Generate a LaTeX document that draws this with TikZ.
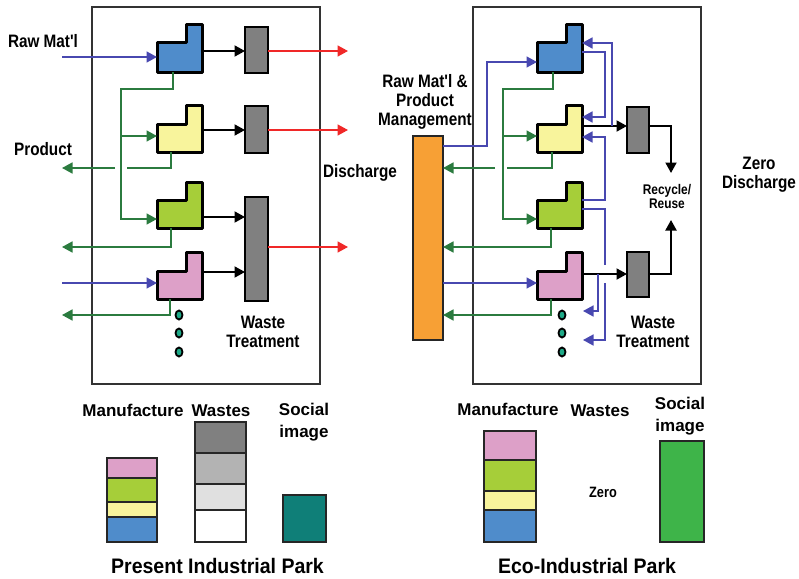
\documentclass[tikz,border=0pt]{standalone}
\usepackage{fontspec}
\setmainfont{Liberation Sans}
\newfontfamily\condf{Liberation Sans}[FakeStretch=0.85]
\newfontfamily\titlef{Liberation Sans}[FakeStretch=0.93]
\usetikzlibrary{arrows.meta,shapes.geometric}
\definecolor{mblue}{HTML}{4F8CCB}
\definecolor{myellow}{HTML}{F8F49C}
\definecolor{mgreen}{HTML}{A6CE39}
\definecolor{mpink}{HTML}{DDA0C8}
\definecolor{wgrey}{HTML}{808080}
\definecolor{wmid}{HTML}{B3B3B3}
\definecolor{wlight}{HTML}{E0E0E0}
\definecolor{morange}{HTML}{F7A035}
\definecolor{lblue}{HTML}{4848B0}
\definecolor{lgreen}{HTML}{2B7B3F}
\definecolor{lred}{HTML}{F02828}
\definecolor{steal}{HTML}{0F7F78}
\definecolor{dteal}{HTML}{1FAA88}
\definecolor{sgreen}{HTML}{3EB449}
\tikzset{
 lab/.style={font=\condf\bfseries\fontsize{18}{19}\selectfont, inner sep=0pt, align=center},
 smalllab/.style={font=\condf\bfseries\fontsize{14}{14}\selectfont, inner sep=0pt, align=center},
 botlab/.style={font=\bfseries\fontsize{17}{22}\selectfont, inner sep=0pt, align=center},
 titlelab/.style={font=\titlef\bfseries\fontsize{21}{24}\selectfont, inner sep=0pt},
 arr/.style={-{Triangle[length=10.5pt,width=11pt]}},
 bl/.style={draw=lblue, line width=1.6pt},
 gl/.style={draw=lgreen, line width=1.6pt},
 kl/.style={draw=black, line width=1.9pt},
 rl/.style={draw=lred, line width=1.6pt},
 wbox/.style={draw=black, fill=wgrey, line width=2.2pt, inner sep=0pt, outer sep=0pt, minimum width=23pt},
 mnode/.style={inner sep=0pt, outer sep=0pt, minimum width=45pt},
 mach/.style={draw=black, line width=3pt, line join=round},
 dotn/.style={ellipse, draw=black, fill=dteal, line width=1.8pt, minimum width=7pt, minimum height=9pt, inner sep=0pt},
 stk/.style={draw=black!85, line width=1.8pt},
 panel/.style={draw=black!80, line width=1.5pt},
}
\newcommand\mymachine[6]{%
 \pgfmathsetmacro\mxa{#2+29}\pgfmathsetmacro\mxb{#2+45}%
 \pgfmathsetmacro\mcy{(#3+#5)/2}\pgfmathsetmacro\mh{#5-#3}%
 \draw[mach, fill=#6] (#2,#4) -- (\mxa,#4) -- (\mxa,#3) -- (\mxb,#3) -- (\mxb,#5) -- (#2,#5) -- cycle;
 \node[mnode, minimum height=\mh pt] (#1) at (#2+22.5,\mcy) {};
}
\begin{document}
\begin{tikzpicture}[x=1pt,y=-1pt]
\useasboundingbox (0,0) rectangle (799,578);
% panels
\draw[panel] (92,7) rectangle (320,384);
\draw[panel] (473,7) rectangle (701,384);

% ---------- left panel ----------
\node[wbox, minimum height=46pt] (w1) at (256.5,50) {};
\node[wbox, minimum height=47pt] (w2) at (256.5,129.5) {};
\node[wbox, minimum height=104pt] (w3) at (256.5,249) {};

\coordinate (rin1) at (62,57);
\coordinate (rin2) at (62,283);
\coordinate (d1) at (348,51);
\coordinate (d2) at (348,130);
\coordinate (d3) at (348,247);
\coordinate (pr1) at (62,168);
\coordinate (pr2) at (62,247);
\coordinate (pr3) at (62,315);

\mymachine{m1}{157}{25}{43}{72}{mblue}
\mymachine{m2}{157}{105}{124}{152}{myellow}
\mymachine{m3}{157}{182}{200}{228}{mgreen}
\mymachine{m4}{157}{252}{271}{299}{mpink}

\draw[bl,arr] (rin1) -- (m1.west |- rin1);
\draw[bl,arr] (rin2) -- (m4.west |- rin2);
\draw[kl,arr] (m1.east |- 0,51) -- (w1.west |- 0,51);
\draw[kl,arr] (m2.east |- 0,130) -- (w2.west |- 0,130);
\draw[kl,arr] (m3.east |- 0,217) -- (w3.west |- 0,217);
\draw[kl,arr] (m4.east |- 0,272) -- (w3.west |- 0,272);
\draw[rl,arr] (w1.east |- d1) -- (d1);
\draw[rl,arr] (w2.east |- d2) -- (d2);
\draw[rl,arr] (w3.east |- d3) -- (d3);
\draw[gl,arr] (m1.south -| 173,0) |- (121,89) |- (m3.west |- 0,219);
\draw[gl,arr] (121,136) -- (m2.west |- 0,136);
\draw[gl] (m2.south -| 171,0) |- (127,168);
\draw[gl,arr] (115,168) -- (pr1);
\draw[gl,arr] (m3.south -| 171,0) |- (pr2);
\draw[gl,arr] (m4.south -| 170,0) |- (pr3);

\node[dotn] (dl1) at (179,315) {};
\node[dotn] (dl2) at (179,333) {};
\node[dotn] (dl3) at (179,352) {};

\node[lab, anchor=base] (lraw) at (43,48) {Raw Mat'l};
\node[lab, anchor=base] (lprod) at (43,155) {Product};
\node[lab, anchor=base] (ldis) at (360,177) {Discharge};
\node[lab] (lwt) at (263,332) {Waste\\Treatment};

% ---------- right panel ----------
\node[draw=black!85, fill=morange, line width=2.2pt, inner sep=0pt, outer sep=0pt, minimum width=30pt, minimum height=204pt] (ob) at (428,238) {};
\node[wbox, minimum width=22pt, minimum height=46pt] (w4) at (638,130) {};
\node[wbox, minimum width=22pt, minimum height=45pt] (w5) at (638,274.5) {};

\coordinate (ri1) at (487,62);
\coordinate (rc1) at (671,173);
\coordinate (rc2) at (671,220);
\coordinate (q1) at (583,311);
\coordinate (q2) at (583,340);

\mymachine{n1}{537}{25}{43}{72}{mblue}
\mymachine{n2}{537}{105}{124}{152}{myellow}
\mymachine{n3}{537}{182}{200}{228}{mgreen}
\mymachine{n4}{537}{252}{271}{299}{mpink}

\draw[bl,arr] (ob.east |- 0,146) -| (ri1) -- (n1.west |- ri1);
\draw[bl,arr] (ob.east |- 0,283) -- (n4.west |- 0,283);
\draw[gl,arr] (n1.south -| 553,0) |- (503,89) |- (n3.west |- 0,219);
\draw[gl,arr] (503,136) -- (n2.west |- 0,136);
\draw[gl] (n2.south -| 552,0) |- (507,168);
\draw[gl,arr] (495,168) -- (ob.east |- 0,168);
\draw[gl,arr] (n3.south -| 551,0) |- (ob.east |- 0,247);
\draw[gl,arr] (n4.south -| 551,0) |- (ob.east |- 0,315);
\draw[kl,arr] (n2.east |- 0,126) -- (w4.west |- 0,126);
\draw[kl,arr] (n4.east |- 0,274) -- (w5.west |- 0,274);
\draw[kl,arr] (w4.east |- 0,126) -| (rc1);
\draw[kl,arr] (w5.east |- 0,274) -| (rc2);
\draw[bl,arr] (612,126) |- (n1.east |- 0,43);
\draw[bl,arr] (n1.east |- 0,52) -| (605,117) -- (n2.east |- 0,117);
\draw[bl,arr] (n3.east |- 0,200) -| (605,137) -- (n2.east |- 0,137);
\draw[bl] (n3.east |- 0,209) -| (605,265);
\draw[bl,arr] (605,283) |- (q2);
\draw[bl,arr] (598,274) |- (q1);

\node[dotn] (dr1) at (562,315) {};
\node[dotn] (dr2) at (562,333) {};
\node[dotn] (dr3) at (562,352) {};

\node[lab] (lrpm) at (425,102) {Raw Mat'l \&\\Product\\Management};
\node[smalllab] (lrec) at (667,196.5) {Recycle/\\Reuse};
\node[lab] (lzd) at (759,174.5) {Zero\\Discharge};
\node[lab] (lwt2) at (653,332) {Waste\\Treatment};

% ---------- bottom left ----------
\draw[stk, fill=mpink] (107,458) rectangle (157,478);
\draw[stk, fill=mgreen] (107,478) rectangle (157,502);
\draw[stk, fill=myellow] (107,502) rectangle (157,517);
\draw[stk, fill=mblue] (107,517) rectangle (157,542);
\draw[stk, fill=wgrey] (195,422) rectangle (246,453);
\draw[stk, fill=wmid] (195,453) rectangle (246,484);
\draw[stk, fill=wlight] (195,484) rectangle (246,510);
\draw[stk, fill=white] (195,510) rectangle (246,542);
\draw[stk, fill=steal] (283,495) rectangle (326,542);
\node[botlab, anchor=base] (bm1) at (133,416) {Manufacture};
\node[botlab, anchor=base] (bw1) at (221,416) {Wastes};
\node[botlab] (bs1) at (304,422.5) {Social\\image};
\node[titlelab, anchor=base] (t1) at (217.5,573) {Present Industrial Park};

% ---------- bottom right ----------
\draw[stk, fill=mpink] (484,431) rectangle (536,460);
\draw[stk, fill=mgreen] (484,460) rectangle (536,491);
\draw[stk, fill=myellow] (484,491) rectangle (536,510);
\draw[stk, fill=mblue] (484,510) rectangle (536,542);
\draw[stk, fill=sgreen] (660,441) rectangle (704,542);
\node[botlab, anchor=base] (bm2) at (508,415) {Manufacture};
\node[botlab, anchor=base] (bw2) at (600,416) {Wastes};
\node[botlab] (bs2) at (680,416.5) {Social\\image};
\node[font=\condf\bfseries\fontsize{15}{16}\selectfont, inner sep=0pt, anchor=base] (bz) at (603,497) {Zero};
\node[titlelab, anchor=base] (t2) at (587,573) {Eco-Industrial Park};
\end{tikzpicture}
\end{document}
